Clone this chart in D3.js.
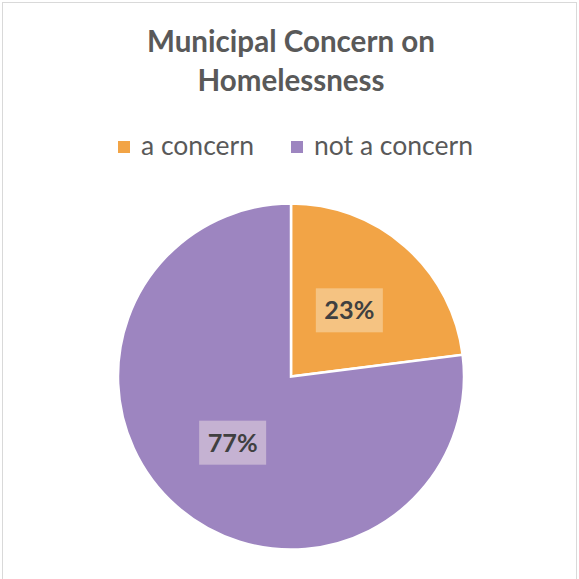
<!DOCTYPE html>
<html>
<head>
<meta charset="utf-8">
<script src="https://cdn.jsdelivr.net/npm/d3@7"></script>
<style>
  html, body { margin: 0; padding: 0; background: #fff; }
  svg { display: block; }
</style>
</head>
<body>
<svg id="chart" width="579" height="579"></svg>
<script>
// Survey result: share of municipalities that report homelessness as a concern
const categories = ["a concern", "not a concern"];
const values = [23, 77];
const sliceColors = ["#F2A446", "#9D85C0"];
const labelBoxColors = ["#F5C382", "#C5B2D2"];
const titleLines = ["Municipal Concern on", "Homelessness"];

const W = 579, H = 579;
const svg = d3.select("#chart");
const FONT = "Lato, 'Open Sans', sans-serif";

// scale a text element's font so that it spans the given width
function fitWidth(sel, target) {
  const node = sel.node();
  const size = parseFloat(sel.attr("font-size"));
  const w = node.getComputedTextLength();
  sel.attr("font-size", (size * target / w).toFixed(2));
}

// frame
svg.append("rect")
  .attr("x", 2.5).attr("y", 2.5)
  .attr("width", 574).attr("height", 600)
  .attr("fill", "#fff")
  .attr("stroke", "#D9D9D9").attr("stroke-width", 1);

// title
const titleBaselines = [52, 91];
const titleWidths = [288, 187];
titleLines.forEach((t, i) => {
  const el = svg.append("text")
    .attr("x", 291).attr("y", titleBaselines[i])
    .attr("text-anchor", "middle")
    .attr("font-family", FONT)
    .attr("font-weight", 700)
    .attr("font-size", 26)
    .attr("fill", "#595959")
    .text(t);
  fitWidth(el, titleWidths[i]);
});

// legend
const legendX = [118, 291];
const legendTextW = [113, 159];
categories.forEach((c, i) => {
  const g = svg.append("g");
  g.append("rect")
    .attr("x", legendX[i]).attr("y", 141)
    .attr("width", 12).attr("height", 12)
    .attr("fill", sliceColors[i]);
  const el = g.append("text")
    .attr("x", legendX[i] + 23).attr("y", 155)
    .attr("font-family", FONT)
    .attr("font-size", 22)
    .attr("fill", "#595959")
    .text(c);
  fitWidth(el, legendTextW[i]);
});

// pie
const cx = 291, cy = 376.5, r = 173;
const pie = d3.pie().sort(null).value(d => d)
  .startAngle(0).endAngle(2 * Math.PI);
const arcs = pie(values);
const arc = d3.arc().innerRadius(0).outerRadius(r);
const labelArc = d3.arc().innerRadius(r * 0.51).outerRadius(r * 0.51);

const pg = svg.append("g").attr("transform", `translate(${cx},${cy})`);
pg.selectAll("path.slice")
  .data(arcs)
  .join("path")
  .attr("class", "slice")
  .attr("d", arc)
  .attr("fill", (d, i) => sliceColors[i])
  .attr("stroke", "#fff")
  .attr("stroke-width", 2.5)
  .attr("stroke-linejoin", "miter");

// data labels with a light backing box
const total = d3.sum(values);
arcs.forEach((d, i) => {
  const [lx, ly] = labelArc.centroid(d);
  const lg = pg.append("g").attr("transform", `translate(${lx},${ly})`);
  const box = lg.append("rect").attr("fill", labelBoxColors[i]);
  const txt = lg.append("text")
    .attr("text-anchor", "middle")
    .attr("dy", "0.35em")
    .attr("font-family", FONT)
    .attr("font-weight", 700)
    .attr("font-size", 26)
    .attr("fill", "#404040")
    .text(Math.round(d.data / total * 100) + "%");
  fitWidth(txt, 50);
  const bw = 67, bh = 44;
  box.attr("x", -bw / 2).attr("y", -bh / 2)
    .attr("width", bw).attr("height", bh);
});
</script>
</body>
</html>
